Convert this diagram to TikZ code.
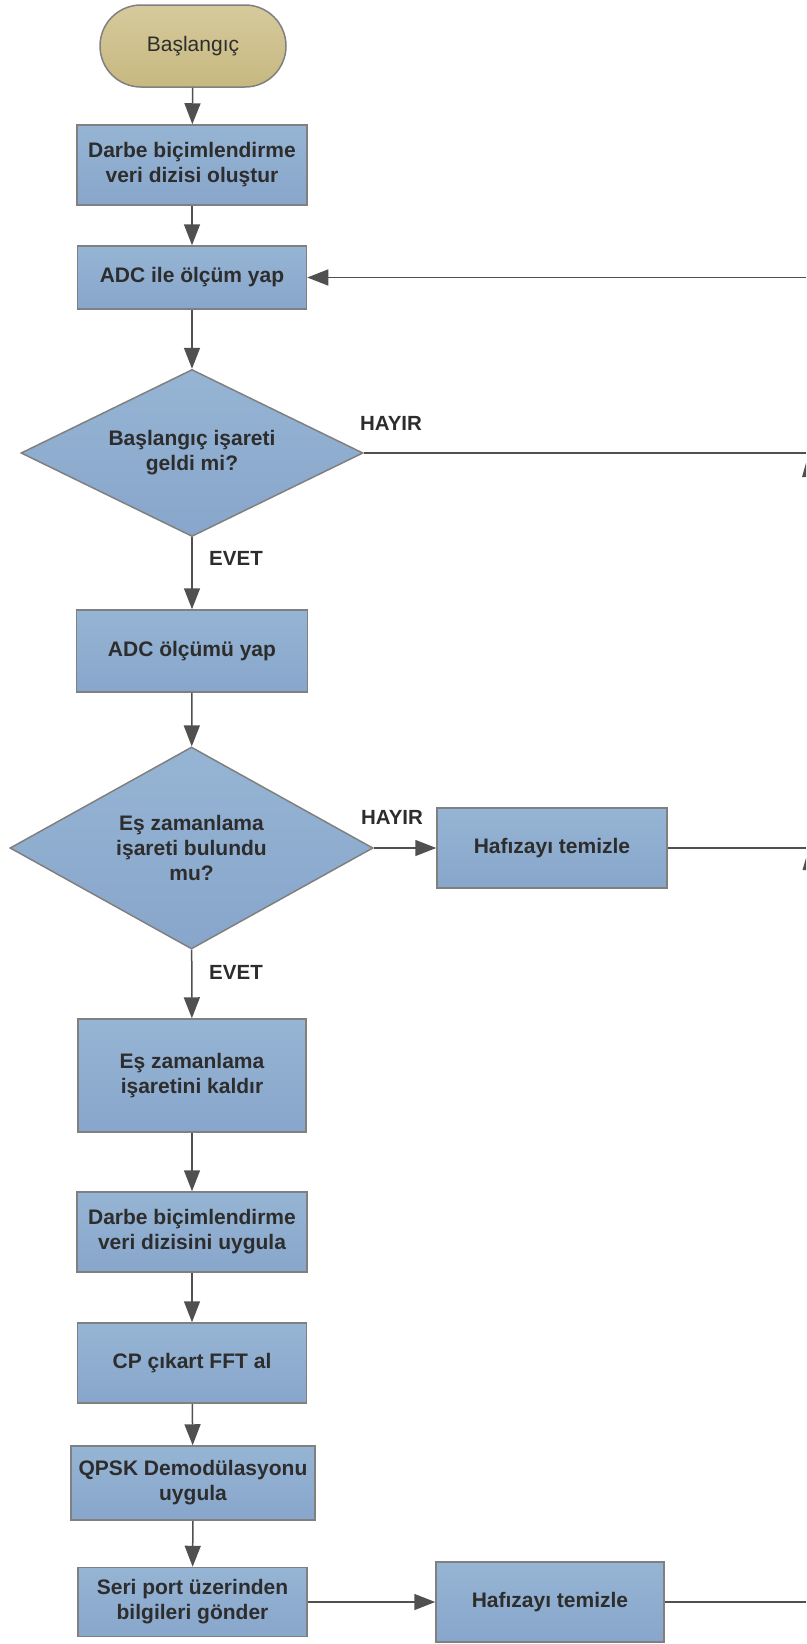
\documentclass[tikz,border=0pt]{standalone}
\usepackage{fontspec}
\setmainfont{Liberation Sans}
\usetikzlibrary{shapes.geometric,arrows.meta}
\definecolor{txt}{RGB}{45,45,45}
\definecolor{edge}{RGB}{128,128,128}
\definecolor{arr}{RGB}{80,80,80}
\definecolor{boxtop}{RGB}{150,180,211}
\definecolor{boxbot}{RGB}{136,166,203}
\definecolor{termtop}{RGB}{214,202,156}
\definecolor{termbot}{RGB}{199,184,128}
\tikzset{
  base/.style={draw=edge, line width=1.5pt, align=center, text=txt, inner sep=0pt,
    font=\fontsize{21}{25}\selectfont\bfseries},
  procbox/.style={base, rectangle, top color=boxtop, bottom color=boxbot},
  termbox/.style={base, rectangle, rounded corners=41pt, top color=termtop, bottom color=termbot,
    font=\fontsize{21}{25}\selectfont},
  decbox/.style={base, diamond, top color=boxtop, bottom color=boxbot},
  conn/.style={draw=arr, line width=1.5pt, -{Triangle[length=21pt,width=16pt]}},
  plainline/.style={draw=arr, line width=1.5pt},
  lbl/.style={text=txt, inner sep=0pt, font=\fontsize{20.5}{24}\selectfont\bfseries}
}
\begin{document}
\begin{tikzpicture}[x=1pt,y=-1pt]
\useasboundingbox (0,0) rectangle (806,1644);
\node[termbox, minimum width=186pt, minimum height=82pt] (start) at (193,46) {Başlangıç};
\node[procbox, minimum width=230pt, minimum height=80pt] (b1) at (192,165) {Darbe biçimlendirme\\veri dizisi oluştur};
\node[procbox, minimum width=229pt, minimum height=63pt] (b2) at (192,277.5) {ADC ile ölçüm yap};
\node[decbox, minimum width=342pt, minimum height=167pt, aspect=2.05] (d1) at (192,453) {Başlangıç işareti\\geldi mi?};
\node[procbox, minimum width=231pt, minimum height=82pt] (b3) at (192,651) {ADC ölçümü yap};
\node[decbox, minimum width=363pt, minimum height=202pt, aspect=1.8] (d2) at (191.5,848) {Eş zamanlama\\işareti bulundu\\mu?};
\node[procbox, minimum width=230pt, minimum height=80pt] (h1) at (552,848) {Hafızayı temizle};
\node[procbox, minimum width=228pt, minimum height=113pt] (b4) at (192,1075.5) {Eş zamanlama\\işaretini kaldır};
\node[procbox, minimum width=230pt, minimum height=80pt] (b5) at (192,1232) {Darbe biçimlendirme\\veri dizisini uygula};
\node[procbox, minimum width=229pt, minimum height=80pt] (b6) at (192,1363) {CP çıkart FFT al};
\node[procbox, minimum width=244pt, minimum height=74pt] (b7) at (193,1483) {QPSK Demodülasyonu\\uygula};
\node[procbox, minimum width=229pt, minimum height=69pt] (b8) at (192.5,1602) {Seri port üzerinden\\bilgileri gönder};
\node[procbox, minimum width=228pt, minimum height=80pt] (h2) at (550,1602) {Hafızayı temizle};

\coordinate (r0) at (806,277.5);
\coordinate (r1) at (806,453);
\coordinate (r2) at (806,848);
\coordinate (r3) at (806,1602);

\draw[conn] (start) -- (b1);
\draw[conn] (b1) -- (b2);
\draw[conn] (b2) -- (d1);
\draw[conn] (d1) -- (b3);
\draw[conn] (b3) -- (d2);
\draw[conn] (d2) -- (b4);
\draw[conn] (b4) -- (b5);
\draw[conn] (b5) -- (b6);
\draw[conn] (b6) -- (b7);
\draw[conn] (b7) -- (b8);
\draw[conn] (r0) -- (r0 -| b2.east);
\draw[plainline] (d1.east) -- (r1);
\draw[conn] (d2.east) -- (h1.west);
\draw[plainline] (h1.east) -- (r2);
\draw[conn] (b8.east) -- (h2.west);
\draw[plainline] (h2.east) -- (r3);

\fill[arr] (802,477) -- (806,463) -- (806,477) -- cycle;
\fill[arr] (802.5,870) -- (806,858) -- (806,870) -- cycle;

\node[lbl] (l1) at (391,423) {HAYIR};
\node[lbl] (l2) at (236,558) {EVET};
\node[lbl] (l3) at (392,817) {HAYIR};
\node[lbl] (l4) at (236,972) {EVET};
\end{tikzpicture}
\end{document}
